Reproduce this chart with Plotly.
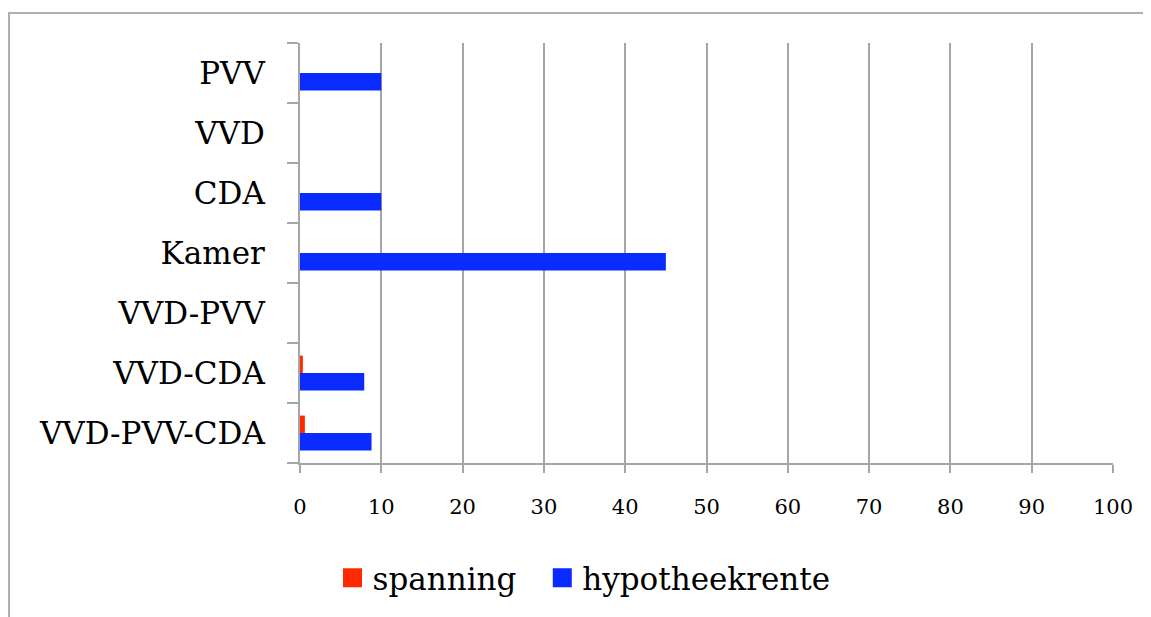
import plotly.graph_objects as go

categories = ["VVD-PVV-CDA", "VVD-CDA", "VVD-PVV", "Kamer", "CDA", "VVD", "PVV"]
spanning = [0.6, 0.35, 0, 0, 0, 0, 0]
hypotheekrente = [8.8, 7.9, 0, 45, 10, 0, 10]
x_ticks = [0, 10, 20, 30, 40, 50, 60, 70, 80, 90, 100]

FONT = "DejaVu Serif"
GRID = "#a6a6a6"
RED = "#ff2a00"
BLUE = "#0a2bff"

fig = go.Figure()
fig.add_trace(go.Bar(
    y=categories, x=hypotheekrente, orientation="h", name="hypotheekrente",
    marker=dict(color=BLUE, line=dict(width=0)), showlegend=False,
))
fig.add_trace(go.Bar(
    y=categories, x=spanning, orientation="h", name="spanning",
    marker=dict(color=RED, line=dict(width=0)), showlegend=False,
))
# legend entries
fig.add_trace(go.Scatter(x=[None], y=[None], mode="markers", name="spanning",
                         marker=dict(symbol="square", size=16, color=RED,
                                     line=dict(color=RED, width=3)), legend="legend"))
fig.add_trace(go.Scatter(x=[None], y=[None], mode="markers", name="hypotheekrente",
                         marker=dict(symbol="square", size=16, color=BLUE,
                                     line=dict(color=BLUE, width=3)), legend="legend2"))

leg_common = dict(orientation="h", y=-0.274, yanchor="middle", xanchor="left",
                  font=dict(size=31, family=FONT), itemsizing="trace",
                  bgcolor="rgba(0,0,0,0)")
fig.update_layout(
    width=1143, height=609,
    paper_bgcolor="white", plot_bgcolor="white",
    margin=dict(l=292, r=38, t=35, b=154),
    barmode="group", bargap=0.42, bargroupgap=0,
    font=dict(family=FONT, color="black"),
    showlegend=True,
    legend=dict(x=0.040, **leg_common),
    legend2=dict(x=0.298, **leg_common),
    shapes=[dict(type="rect", xref="paper", yref="paper",
                 x0=-291/813, x1=1.2, y0=-0.5, y1=1 + 30/420,
                 line=dict(color="#b0b0b0", width=2), fillcolor="rgba(0,0,0,0)", layer="below")],
)
fig.update_xaxes(
    range=[0, 100], tickvals=x_ticks, ticktext=[str(v) for v in x_ticks],
    showgrid=True, gridcolor=GRID, gridwidth=2,
    showline=True, linecolor=GRID, linewidth=2,
    ticks="outside", ticklen=8, tickcolor=GRID, tickwidth=2, ticklabelstandoff=16,
    tickfont=dict(size=21, family=FONT), zeroline=False,
)
fig.update_yaxes(
    categoryorder="array", categoryarray=categories,
    showline=True, linecolor=GRID, linewidth=2,
    ticks="outside", ticklen=11, tickcolor=GRID, tickwidth=2, tickson="boundaries",
    tickfont=dict(size=31, family=FONT), showgrid=False, ticklabelstandoff=27,
)
fig.write_html("out.html")
